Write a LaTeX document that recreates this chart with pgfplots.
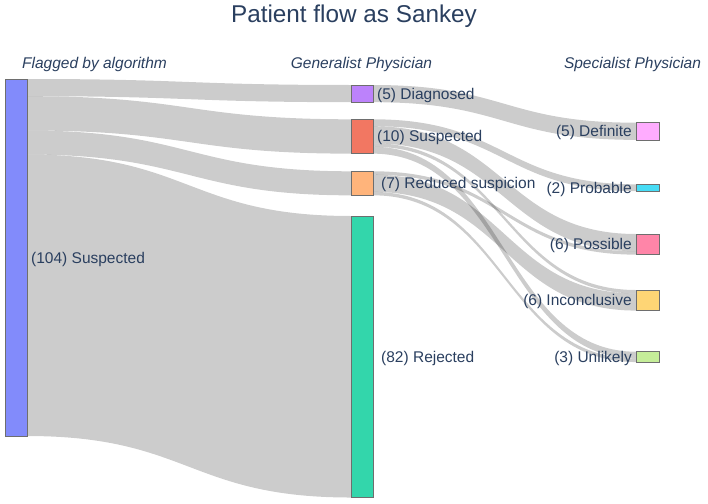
\documentclass[border=0pt]{standalone}
\usepackage{pgfplots}
\pgfplotsset{compat=1.18}
\usepackage{fontspec}
\setmainfont{Liberation Sans}
\definecolor{txt}{HTML}{2A3F5F}
\definecolor{cA}{RGB}{130,139,251}
\definecolor{cDiag}{RGB}{188,130,251}
\definecolor{cSusp}{RGB}{242,119,98}
\definecolor{cRed}{RGB}{255,180,123}
\definecolor{cRej}{RGB}{51,214,171}
\definecolor{cDef}{RGB}{255,172,255}
\definecolor{cProb}{RGB}{71,220,245}
\definecolor{cPoss}{RGB}{255,133,168}
\definecolor{cInc}{RGB}{254,213,117}
\definecolor{cUnl}{RGB}{197,237,153}
\definecolor{nodeline}{RGB}{110,110,110}
\newcommand{\kk}{3.433}
% link: x0, y0 (top at source), x1, y1 (top at target), value
\newcommand{\link}[5]{%
  \fill[black, fill opacity=0.2]
    (axis cs:#1,#2) .. controls (axis cs:{(#1+#3)/2},#2) and (axis cs:{(#1+#3)/2},#4) .. (axis cs:#3,#4)
    -- (axis cs:#3,{#4+#5*\kk})
    .. controls (axis cs:{(#1+#3)/2},{#4+#5*\kk}) and (axis cs:{(#1+#3)/2},{#2+#5*\kk}) .. (axis cs:#1,{#2+#5*\kk})
    -- cycle;}
\tikzset{lab/.style={text=txt, font=\fontsize{15.5}{18}\selectfont, inner sep=0pt}}
\begin{document}
\begin{tikzpicture}
\begin{axis}[x=1pt, y=1pt, y dir=reverse, xmin=0, xmax=708, ymin=0, ymax=503,
  hide axis, clip=false]
\addplot[draw=none] coordinates {(0,0) (708,0) (708,503) (0,503)};
% links: flagged -> generalist
\link{27}{79}{351}{85}{5}
\link{27}{96.17}{351}{119.3}{10}
\link{27}{130.5}{351}{171.3}{7}
\link{27}{154.5}{351}{216}{82}
% links: generalist -> specialist
\link{373}{85}{636}{122.7}{5}
\link{373}{119.3}{636}{184.3}{2}
\link{373}{126.2}{636}{234}{5}
\link{373}{143.3}{636}{290}{1}
\link{373}{146.8}{636}{351.7}{2}
\link{373}{171.3}{636}{251.2}{1}
\link{373}{174.7}{636}{293.4}{5}
\link{373}{191.9}{636}{358.6}{1}
% nodes
\addplot[fill=cA, draw=nodeline, line width=0.5pt] coordinates {(5,79) (27,79) (27,436) (5,436)} --cycle;
\addplot[fill=cDiag, draw=nodeline, line width=0.5pt] coordinates {(351,85) (373,85) (373,102.2) (351,102.2)} --cycle;
\addplot[fill=cSusp, draw=nodeline, line width=0.5pt] coordinates {(351,119.3) (373,119.3) (373,153.6) (351,153.6)} --cycle;
\addplot[fill=cRed, draw=nodeline, line width=0.5pt] coordinates {(351,171.3) (373,171.3) (373,195.3) (351,195.3)} --cycle;
\addplot[fill=cRej, draw=nodeline, line width=0.5pt] coordinates {(351,216) (373,216) (373,497.5) (351,497.5)} --cycle;
\addplot[fill=cDef, draw=nodeline, line width=0.5pt] coordinates {(636,122.7) (659,122.7) (659,139.9) (636,139.9)} --cycle;
\addplot[fill=cProb, draw=nodeline, line width=0.5pt] coordinates {(636,184.3) (659,184.3) (659,191.2) (636,191.2)} --cycle;
\addplot[fill=cPoss, draw=nodeline, line width=0.5pt] coordinates {(636,234) (659,234) (659,254.6) (636,254.6)} --cycle;
\addplot[fill=cInc, draw=nodeline, line width=0.5pt] coordinates {(636,290) (659,290) (659,310.6) (636,310.6)} --cycle;
\addplot[fill=cUnl, draw=nodeline, line width=0.5pt] coordinates {(636,351.7) (659,351.7) (659,362.0) (636,362.0)} --cycle;
% labels
\node[lab, anchor=west] at (axis cs:31,259) {(104) Suspected};
\node[lab, anchor=west] at (axis cs:377,95) {(5) Diagnosed};
\node[lab, anchor=west] at (axis cs:377,137.8) {(10) Suspected};
\node[lab, anchor=west] at (axis cs:381,184.7) {(7) Reduced suspicion};
\node[lab, anchor=west] at (axis cs:381,358) {(82) Rejected};
\node[lab, anchor=east] at (axis cs:632,132.5) {(5) Definite};
\node[lab, anchor=east] at (axis cs:632,189) {(2) Probable};
\node[lab, anchor=east] at (axis cs:632,245.5) {(6) Possible};
\node[lab, anchor=east] at (axis cs:632,301.5) {(6) Inconclusive};
\node[lab, anchor=east] at (axis cs:632,358) {(3) Unlikely};
\node[lab, anchor=base, font=\fontsize{15.5}{18}\selectfont\itshape] at (axis cs:94.5,68) {Flagged by algorithm};
\node[lab, anchor=base, font=\fontsize{15.5}{18}\selectfont\itshape] at (axis cs:361.5,68) {Generalist Physician};
\node[lab, anchor=base, font=\fontsize{15.5}{18}\selectfont\itshape] at (axis cs:632.5,68) {Specialist Physician};
\node[lab, anchor=base, font=\fontsize{24.3}{28}\selectfont] at (axis cs:354,23) {Patient flow as Sankey};
\end{axis}
\end{tikzpicture}
\end{document}
